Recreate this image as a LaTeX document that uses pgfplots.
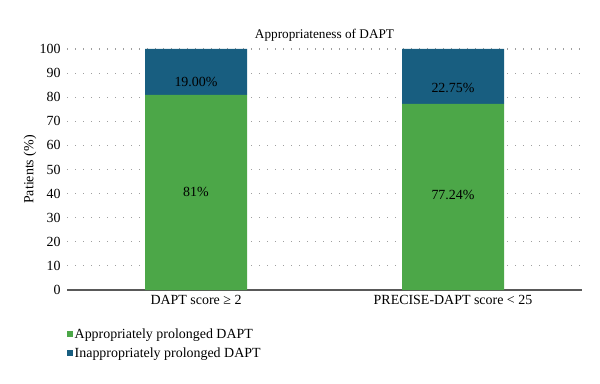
\documentclass[border=0pt]{standalone}
\usepackage{pgfplots}
\pgfplotsset{compat=1.18}
\usepackage{fontspec}
\setmainfont{Liberation Serif}
\definecolor{cgreen}{RGB}{76,167,72}
\definecolor{cblue}{RGB}{24,94,128}
\begin{document}
\begin{tikzpicture}[x=1bp,y=1bp]
\useasboundingbox (0,0) rectangle (600,383);
\begin{axis}[
  at={(67bp,93bp)}, anchor=south west,
  scale only axis, width=515bp, height=241bp,
  ybar stacked, bar width=102bp,
  xmin=-0.502, xmax=1.502, ymin=0, ymax=100,
  xtick={0,1}, xticklabels={DAPT score ≥ 2, PRECISE-DAPT score < 25},
  ytick={0,10,...,100},
  /pgf/number format/assume math mode=true,
  tick style={draw=none},
  axis x line*=bottom, axis y line*=left,
  y axis line style={draw=none},
  x axis line style={draw=black!65, line width=1.3pt},
  ymajorgrids, grid style={dash pattern=on 1.3bp off 6.7bp, gray!75, line width=1.1pt},
  font=\fontsize{14}{16}\selectfont,
  ticklabel style={font=\fontsize{14}{16}\selectfont},
  yticklabel style={xshift=-3bp},
  xticklabel style={yshift=-2bp},
  ylabel={Patients (\%)}, ylabel style={font=\fontsize{14}{16}\selectfont, at={(axis description cs:-0.072,0.5)}, anchor=center},
  title={Appropriateness of DAPT}, title style={font=\fontsize{13.3}{15}\selectfont, yshift=-2bp},
  legend style={at={(axis description cs:0,-0.15)}, anchor=north west, draw=none, font=\fontsize{14}{16}\selectfont, row sep=4bp, inner sep=0pt, nodes={inner xsep=1.5bp}},
  legend cell align=left,
  legend image code/.code={\fill[#1] (0,-3bp) rectangle (6bp,3bp);},
]
\addplot[fill=cgreen, draw=none] coordinates {(0,81) (1,77.24)};
\addplot[fill=cblue, draw=none] coordinates {(0,19) (1,22.76)};
\legend{Appropriately prolonged DAPT, Inappropriately prolonged DAPT}
\end{axis}
\begin{axis}[
  at={(67bp,93bp)}, anchor=south west,
  scale only axis, width=515bp, height=241bp,
  xmin=-0.502, xmax=1.502, ymin=0, ymax=100,
  hide axis,
]
\node[font=\fontsize{14}{16}\selectfont] at (axis cs:0,40.7) {81\%};
\node[font=\fontsize{14}{16}\selectfont] at (axis cs:1,39.4) {77.24\%};
\node[font=\fontsize{14}{16}\selectfont] at (axis cs:0,86.5) {19.00\%};
\node[font=\fontsize{14}{16}\selectfont] at (axis cs:1,83.8) {22.75\%};
\end{axis}
\end{tikzpicture}
\end{document}
